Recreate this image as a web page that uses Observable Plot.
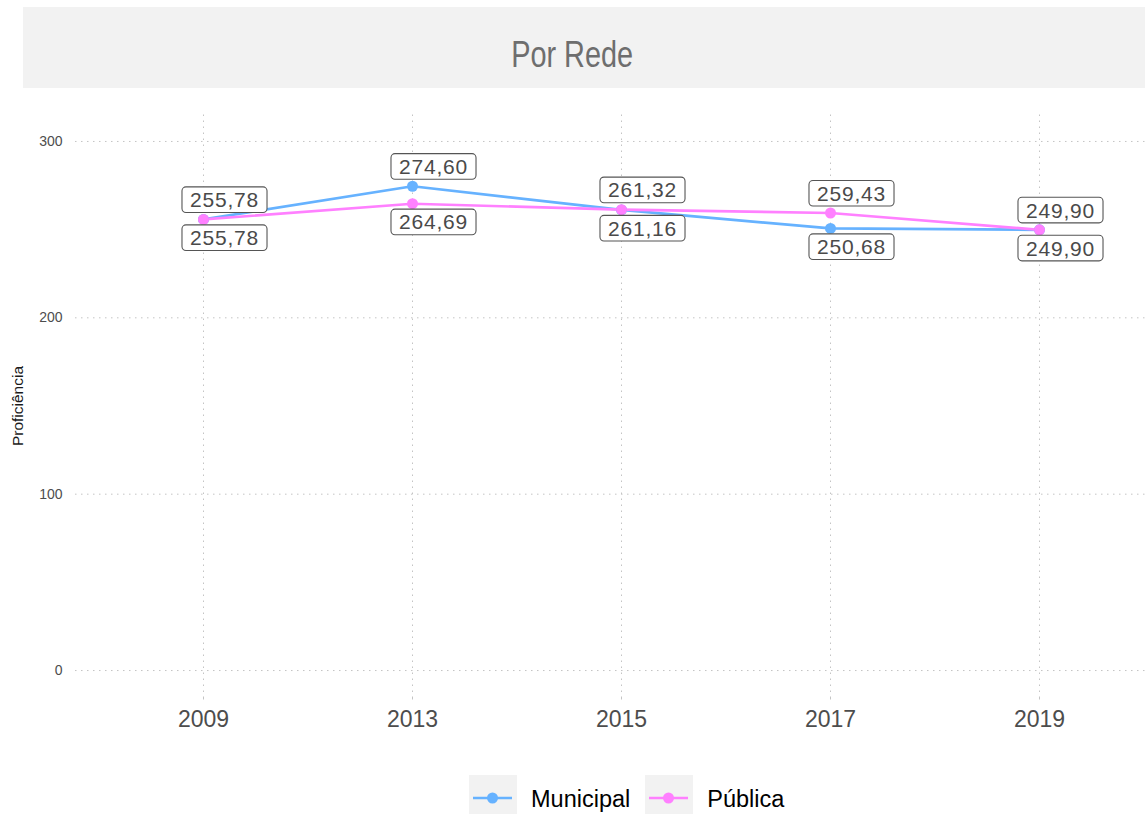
<!DOCTYPE html>
<html><head><meta charset="utf-8">
<script src="https://cdn.jsdelivr.net/npm/d3@7"></script>
<script src="https://cdn.jsdelivr.net/npm/@observablehq/plot@0.6"></script>
<style>
body{margin:0;background:#fff;font-family:"Liberation Sans",Arial,sans-serif;}
#wrap{position:relative;width:1145px;height:814px;overflow:hidden;}
#chart{position:absolute;left:0;top:0;}
#titlebox{position:absolute;left:23px;top:7px;width:1122px;height:81px;background:#f2f2f2;}
#title{position:absolute;left:0;top:7px;width:1145px;height:81px;display:flex;align-items:center;justify-content:center;}
#title span{font-size:37px;color:#6e6e6e;transform:scaleX(0.78);display:inline-block;position:relative;top:7px;}
#legend{position:absolute;left:469px;top:775px;display:flex;align-items:center;height:48px;}
#legend .item{display:flex;align-items:center;}
#legend svg{display:block;}
#legend span{font-size:23.5px;color:#000;margin-left:14px;margin-right:15px;}
</style></head><body>
<div id="wrap"><div id="chart"></div><div id="titlebox"></div><div id="title"><span>Por Rede</span></div><div id="legend"></div></div>
<script>
const years = ["2009", "2013", "2015", "2017", "2019"];
const redes = ["Municipal", "Pública"];
const municipal = [255.78, 274.60, 261.16, 250.68, 249.90];
const publica = [255.78, 264.69, 261.32, 259.43, 249.90];
const yTicks = [0, 100, 200, 300];
const cores = ["#66b2ff", "#ff80ff"];

const values = {"Municipal": municipal, "Pública": publica};
const data = redes.flatMap(r => years.map((y, i) => {
  const v = values[r][i];
  const other = values[redes.find(o => o !== r)][i];
  return {
    ano: y, rede: r, valor: v,
    label: v.toFixed(2).replace(".", ","),
    above: v > other || (v === other && r === "Municipal")
  };
}));

const labelStyle = {fontSize: 21, fill: "#4a4a4a", dx: 21, ariaDescription: "rotulos"};

const chart = Plot.plot({
  width: 1145, height: 814,
  marginTop: 114.5, marginBottom: 117.5, marginLeft: 75, marginRight: 0,
  style: {fontFamily: "Liberation Sans, Arial, sans-serif", background: "transparent", overflow: "visible"},
  x: {type: "point", domain: years, padding: 0, insetLeft: 126, insetRight: 105},
  y: {domain: [-15, 315]},
  color: {domain: redes, range: cores},
  marks: [
    Plot.gridY(yTicks, {stroke: "#c4c4c4", strokeOpacity: 1, strokeDasharray: "1.5,4.5", strokeWidth: 1}),
    Plot.gridX(years, {stroke: "#c4c4c4", strokeOpacity: 1, strokeDasharray: "1.5,4.5", strokeWidth: 1}),
    Plot.axisY(yTicks, {tickSize: 0, tickPadding: 13, fontSize: 14, fill: "#4d4d4d", label: null}),
    Plot.axisX(years, {tickSize: 3, tickPadding: 11, fontSize: 23, fill: "#4d4d4d", stroke: "#c4c4c4", label: null}),
    Plot.text(["Proficiência"], {frameAnchor: "left", textAnchor: "middle", rotate: -90, dx: -57, fontSize: 15.5, fill: "#1a1a1a"}),
    Plot.line(data, {x: "ano", y: "valor", stroke: "rede", strokeWidth: 2.7}),
    Plot.dot(data, {x: "ano", y: "valor", fill: "rede", r: 5.5}),
    Plot.text(data.filter(d => d.above), {x: "ano", y: "valor", text: "label", dy: -19, ...labelStyle}),
    Plot.text(data.filter(d => !d.above), {x: "ano", y: "valor", text: "label", dy: 19, ...labelStyle})
  ]
});
document.getElementById("chart").append(chart);

// label boxes (geom_label look)
chart.querySelectorAll('g[aria-description="rotulos"]').forEach(g => {
  g.querySelectorAll("text").forEach(t => {
    t.style.letterSpacing = "0.8px";
    const b = t.getBBox();
    const rect = document.createElementNS("http://www.w3.org/2000/svg", "rect");
    rect.setAttribute("x", b.x - 8);
    rect.setAttribute("y", b.y - 1.3);
    rect.setAttribute("width", b.width + 16);
    rect.setAttribute("height", b.height + 2.6);
    rect.setAttribute("rx", 4);
    rect.setAttribute("fill", "#fff");
    rect.setAttribute("stroke", "#555");
    rect.setAttribute("stroke-width", 1.1);
    if (t.getAttribute("transform")) rect.setAttribute("transform", t.getAttribute("transform"));
    t.parentNode.insertBefore(rect, t);
  });
});

// legend
const leg = d3.select("#legend");
redes.forEach((r, i) => {
  const item = leg.append("div").attr("class", "item");
  const s = item.append("svg").attr("width", 48).attr("height", 48).style("background", "#f2f2f2");
  s.append("line").attr("x1", 4).attr("x2", 43).attr("y1", 23).attr("y2", 23)
    .attr("stroke", cores[i]).attr("stroke-width", 2.7);
  s.append("circle").attr("cx", 23.5).attr("cy", 23).attr("r", 5.5).attr("fill", cores[i]);
  item.append("span").text(r);
});
</script>
</body></html>
